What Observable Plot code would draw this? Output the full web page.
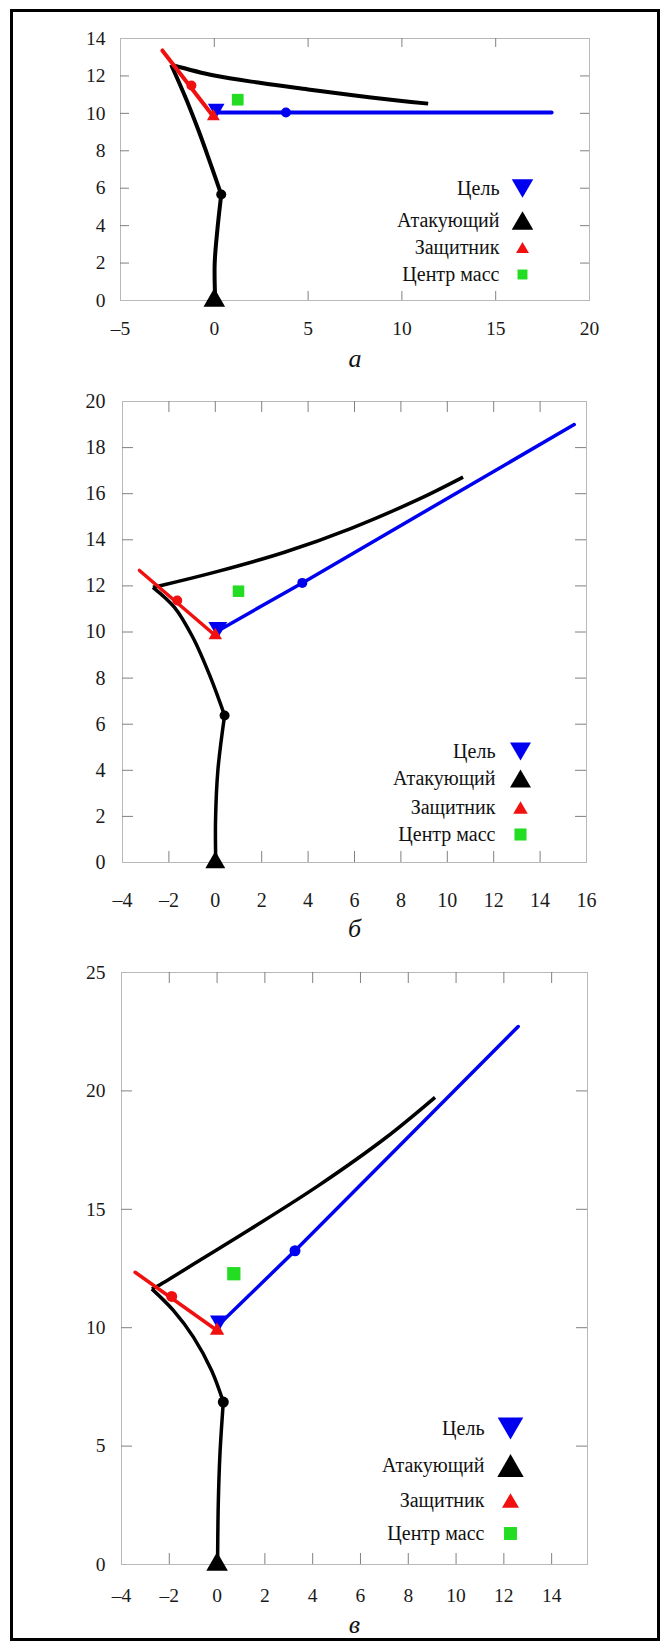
<!DOCTYPE html>
<html lang="ru">
<head>
<meta charset="utf-8">
<script src="https://cdn.jsdelivr.net/npm/d3@7"></script>
<script src="https://cdn.jsdelivr.net/npm/@observablehq/plot@0.6"></script>
<style>
  html, body { margin: 0; padding: 0; background: #fff; }
  body { width: 668px; height: 1649px; position: relative; overflow: hidden; }
  .panel { position: absolute; left: 0; width: 668px; }
  .panel svg { display: block; }
  #frame { position: absolute; left: 10px; top: 9px; width: 644px; height: 1626px; border: 3px solid #000; pointer-events: none; }
</style>
</head>
<body>
<div id="pa" class="panel"></div>
<div id="pb" class="panel"></div>
<div id="pc" class="panel"></div>
<div id="frame"></div>
<script>
// ---------- shared legend ----------
const legendLabels = ["Цель", "Атакующий", "Защитник", "Центр масс"];
const legendKinds = ["target", "attacker", "defender", "center"];

// ---------- panel а ----------
const captionA = "а";
const xDomainA = [-5, 20];
const yDomainA = [0, 14];
const xTicksA = [-5, 0, 5, 10, 15, 20];
const yTicksA = [0, 2, 4, 6, 8, 10, 12, 14];
const attackerA = [
  [[0.05, 0], [0.02, 1.96], [0.16, 3.74], [0.37, 5.66]],
  [[0.37, 5.66], [-0.2, 7.3], [-0.84, 9.08], [-1.54, 10.86], [-2.3, 12.6]],
  [[-2.3, 12.6], [0, 12.02], [2.5, 11.62], [5, 11.28], [7.5, 10.95], [10, 10.66], [11.4, 10.52]]
];
const targetA = [[0.15, 10.05], [3.82, 10.05], [17.98, 10.05]];
const defenderA = [[-2.77, 13.36], [-0.05, 9.83]];
const attackerDotA = [0.37, 5.66];
const targetDotA = [3.82, 10.05];
const defenderDotA = [-1.22, 11.49];
const attackerStartA = [0, 0];
const targetStartA = [0.1, 10.25];
const defenderStartA = [-0.05, 9.83];
const centerA = [1.25, 10.73];

// ---------- panel б ----------
const captionB = "б";
const xDomainB = [-4, 16];
const yDomainB = [0, 20];
const xTicksB = [-4, -2, 0, 2, 4, 6, 8, 10, 12, 14, 16];
const yTicksB = [0, 2, 4, 6, 8, 10, 12, 14, 16, 18, 20];
const attackerB = [
  [[0.02, 0], [0.01, 1.82], [0.11, 3.99], [0.40, 6.38]],
  [[0.40, 6.38], [-0.21, 8.04], [-0.97, 9.77], [-1.76, 11.07], [-2.69, 11.94]],
  [[-2.69, 11.94], [-2.33, 12.02], [0.11, 12.63], [2.98, 13.46], [5.86, 14.5], [8.73, 15.74], [10.68, 16.72]]
];
const targetB = [[0.2, 10.1], [3.75, 12.13], [15.47, 19.0]];
const defenderB = [[-3.27, 12.67], [0, 9.85]];
const attackerDotB = [0.40, 6.38];
const targetDotB = [3.75, 12.13];
const defenderDotB = [-1.64, 11.37];
const attackerStartB = [0, 0];
const targetStartB = [0.11, 10.2];
const defenderStartB = [0, 9.85];
const centerB = [1.0, 11.77];

// ---------- panel в ----------
const captionC = "в";
const xDomainC = [-4, 15.5];
const yDomainC = [0, 25];
const xTicksC = [-4, -2, 0, 2, 4, 6, 8, 10, 12, 14];
const yTicksC = [0, 5, 10, 15, 20, 25];
const attackerC = [
  [[0.02, 0], [0.05, 2.56], [0.12, 4.67], [0.26, 6.86]],
  [[0.26, 6.86], [-0.23, 8.19], [-0.99, 9.6], [-1.83, 10.73], [-2.73, 11.64]],
  [[-2.73, 11.64], [-2.45, 11.78], [-0.64, 12.9], [1.45, 14.2], [4.24, 16.0], [7.03, 18.0], [9.12, 19.73]]
];
const targetC = [[0.2, 10.25], [3.26, 13.25], [12.6, 22.72]];
const defenderC = [[-3.43, 12.34], [0, 9.88]];
const attackerDotC = [0.26, 6.86];
const targetDotC = [3.26, 13.25];
const defenderDotC = [-1.90, 11.32];
const attackerStartC = [0, 0];
const targetStartC = [0.08, 10.3];
const defenderStartC = [0, 9.88];
const centerC = [0.7, 12.28];

// ---------- styling ----------
const FONT = "'Liberation Serif', serif";
const BLUE = "#0000f0", RED = "#f01010", GREEN = "#22dd22", BLACK = "#000";
const fmt = d => d < 0 ? "\u2013" + Math.abs(d) : String(d);
const triangleDown = {
  draw(ctx, size) {
    const y = Math.sqrt(size / (Math.sqrt(3) * 3));
    ctx.moveTo(0, 2 * y);
    ctx.lineTo(-Math.sqrt(3) * y, -y);
    ctx.lineTo(Math.sqrt(3) * y, -y);
    ctx.closePath();
  }
};
const kindStyle = {
  target: {symbol: triangleDown, fill: BLUE, up: -1},
  attacker: {symbol: "triangle", fill: BLACK, up: 1},
  defender: {symbol: "triangle", fill: RED, up: 1},
  center: {symbol: "square", fill: GREEN, up: 0}
};

function drawPanel(el, P, L) {
  el.style.top = L.top + "px";
  const W = 668 - L.ml - L.mr, H = L.h - L.mt - L.mb;
  const path = P.attacker.flatMap((s, k) => s.map(([x, y]) => ({x, y, seg: k})));
  const xin = P.xTicks.filter(t => t > P.xDomain[0] && t < P.xDomain[1]);
  const yin = P.yTicks.filter(t => t > P.yDomain[0] && t < P.yDomain[1]);
  const tickStroke = "#808080";
  const legend = [];
  legendKinds.forEach((k, i) => {
    const s = kindStyle[k];
    const r = L.legR[i];
    legend.push(Plot.dot([0], {frameAnchor: "bottom-right", dx: L.legSymDx, dy: L.legDy[i] + s.up * 0.39 * r,
      symbol: s.symbol, r, fill: s.fill, stroke: "none"}));
    legend.push(Plot.text([legendLabels[i]], {frameAnchor: "bottom-right", dx: L.legTextDx, dy: L.legDy[i],
      text: d => d, textAnchor: "end", lineAnchor: "middle", fontSize: L.legFont, fontFamily: FONT, fill: "#111"}));
  });
  const plot = Plot.plot({
    width: 668, height: L.h,
    marginLeft: L.ml, marginRight: L.mr, marginTop: L.mt, marginBottom: L.mb,
    x: {domain: P.xDomain, label: null},
    y: {domain: P.yDomain, label: null},
    style: {fontFamily: FONT, background: "transparent", overflow: "visible"},
    marks: [
      Plot.frame({stroke: "#b8b8b8", strokeWidth: 1}),
      Plot.tickX(xin, {x: d => d, insetTop: H - L.tick, stroke: tickStroke}),
      Plot.tickX(xin, {x: d => d, insetBottom: H - L.tick, stroke: tickStroke}),
      Plot.tickY(yin, {y: d => d, insetRight: W - L.tick, stroke: tickStroke}),
      Plot.tickY(yin, {y: d => d, insetLeft: W - L.tick, stroke: tickStroke}),
      Plot.axisX({ticks: P.xTicks, tickSize: 0, tickPadding: L.xPad, tickFormat: fmt, fontSize: L.tickFont, fontFamily: FONT, fill: "#1a1a1a", label: null}),
      Plot.axisY({ticks: P.yTicks, tickSize: 0, tickPadding: L.yPad, tickFormat: fmt, fontSize: L.tickFont, fontFamily: FONT, fill: "#1a1a1a", label: null}),
      Plot.line(path, {x: "x", y: "y", z: "seg", curve: "catmull-rom", stroke: BLACK, strokeWidth: L.lw, strokeLinecap: "butt"}),
      Plot.line(P.target, {x: d => d[0], y: d => d[1], stroke: BLUE, strokeWidth: L.lw}),
      Plot.line(P.defender, {x: d => d[0], y: d => d[1], stroke: RED, strokeWidth: L.lw}),
      Plot.dot([P.attackerDot], {r: L.dotR, fill: BLACK}),
      Plot.dot([P.targetDot], {r: L.dotR, fill: BLUE}),
      Plot.dot([P.defenderDot], {r: L.dotR, fill: RED}),
      Plot.dot([P.center], {symbol: "square", r: L.cenR, fill: GREEN}),
      Plot.dot([P.targetStart], {symbol: triangleDown, r: L.tgtR, fill: BLUE}),
      Plot.dot([P.defenderStart], {symbol: "triangle", r: L.defR, fill: RED}),
      Plot.dot([P.attackerStart], {symbol: "triangle", r: L.attR, fill: BLACK}),
      ...legend,
      Plot.text([P.caption], {frameAnchor: "bottom", dy: L.capDy, text: d => d, lineAnchor: "middle", fontSize: L.capFont, fontFamily: FONT, fontStyle: "italic", fill: "#111"})
    ]
  });
  el.appendChild(plot);
}

drawPanel(document.getElementById("pa"), {
  caption: captionA, xDomain: xDomainA, yDomain: yDomainA, xTicks: xTicksA, yTicks: yTicksA,
  attacker: attackerA, target: targetA, defender: defenderA,
  attackerDot: attackerDotA, targetDot: targetDotA, defenderDot: defenderDotA,
  attackerStart: attackerStartA, targetStart: targetStartA, defenderStart: defenderStartA, center: centerA
}, {
  top: 0, h: 380, mt: 38, mb: 80, ml: 120, mr: 79, tick: 9,
  xPad: 21, yPad: 15, tickFont: 19.5, lw: 4, dotR: 5, cenR: 6.6, tgtR: 6.2, defR: 4.8, attR: 8,
  legDy: [-112, -80, -53, -26], legSymDx: -67, legTextDx: -90, legFont: 20, legR: [8, 8, 4.8, 5.6],
  capDy: 58, capFont: 26
});

drawPanel(document.getElementById("pb"), {
  caption: captionB, xDomain: xDomainB, yDomain: yDomainB, xTicks: xTicksB, yTicks: yTicksB,
  attacker: attackerB, target: targetB, defender: defenderB,
  attackerDot: attackerDotB, targetDot: targetDotB, defenderDot: defenderDotB,
  attackerStart: attackerStartB, targetStart: targetStartB, defenderStart: defenderStartB, center: centerB
}, {
  top: 380, h: 565, mt: 21, mb: 83, ml: 122, mr: 82, tick: 11,
  xPad: 30, yPad: 17, tickFont: 20, lw: 3.5, dotR: 5, cenR: 6.5, tgtR: 7, defR: 5, attR: 7.4,
  legDy: [-111, -84, -55, -28], legSymDx: -66, legTextDx: -91, legFont: 20, legR: [7.8, 7.8, 5.4, 6.8],
  capDy: 66, capFont: 26
});

drawPanel(document.getElementById("pc"), {
  caption: captionC, xDomain: xDomainC, yDomain: yDomainC, xTicks: xTicksC, yTicks: yTicksC,
  attacker: attackerC, target: targetC, defender: defenderC,
  attackerDot: attackerDotC, targetDot: targetDotC, defenderDot: defenderDotC,
  attackerStart: attackerStartC, targetStart: targetStartC, defenderStart: defenderStartC, center: centerC
}, {
  top: 945, h: 704, mt: 27, mb: 85, ml: 121, mr: 81, tick: 11,
  xPad: 24, yPad: 16, tickFont: 19.5, lw: 3.5, dotR: 5.5, cenR: 7.5, tgtR: 6.7, defR: 5.3, attR: 8,
  legDy: [-136, -99, -64, -31], legSymDx: -77, legTextDx: -103, legFont: 20, legR: [9.5, 9.8, 6.3, 7.3],
  capDy: 60, capFont: 26
});
</script>
</body>
</html>
